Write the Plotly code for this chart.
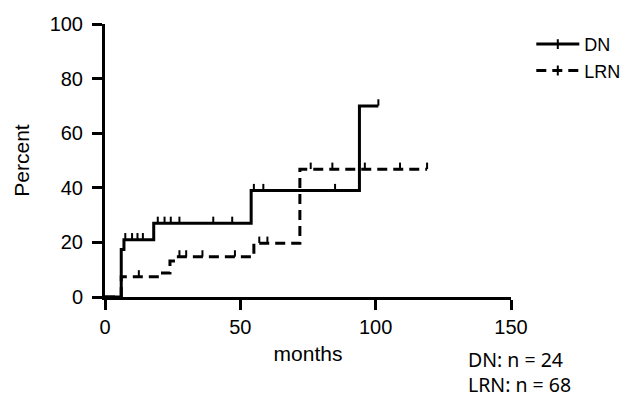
import numpy as np
import plotly.graph_objects as go

# ---- data ----
DN_event_months = [0, 6, 7, 18, 54, 94]
DN_event_pct = [0, 17.4, 21.0, 27.0, 39.0, 70.0]
DN_last_month = 101
DN_censor_months = [7.5, 10, 12, 14, 19.5, 22, 24.3, 27.5, 40, 47, 55, 58.5, 85, 101]

LRN_event_months = [0, 6, 20, 24, 26, 55, 72]
LRN_event_pct = [0, 7.4, 8.8, 13.2, 14.7, 19.7, 46.8]
LRN_last_month = 119
LRN_censor_months = [12.5, 27.5, 30, 36, 48, 57, 60, 76, 84, 96, 109, 119]

x_ticks = [0, 50, 100, 150]
y_ticks = [0, 20, 40, 60, 80, 100]
notes = ["DN: n = 24", "LRN: n = 68"]

FONT = "Arial, Liberation Sans, sans-serif"


def step_value(times, vals, t):
    idx = np.searchsorted(np.asarray(times), t, side="right") - 1
    return np.asarray(vals)[idx]


TICK_UP = 1.25  # lift censor tick (data units) so it points upward from the line

fig = go.Figure()

series = [
    ("DN", DN_event_months, DN_event_pct, DN_last_month, DN_censor_months, "solid"),
    ("LRN", LRN_event_months, LRN_event_pct, LRN_last_month, LRN_censor_months, "10px,6px"),
]

for name, tm, pc, last, cens, dash in series:
    xs = list(tm) + [last]
    ys = list(pc) + [pc[-1]]
    fig.add_trace(go.Scatter(x=xs, y=ys, mode="lines", line_shape="hv",
                             line=dict(color="black", width=3, dash=dash),
                             showlegend=False, hoverinfo="skip"))
    cy = step_value(tm, pc, np.asarray(cens)) + TICK_UP
    fig.add_trace(go.Scatter(x=cens, y=cy, mode="markers",
                             marker=dict(symbol="line-ns", size=4.6, color="black",
                                         line=dict(color="black", width=2)),
                             showlegend=False, hoverinfo="skip"))
    # legend entry
    fig.add_trace(go.Scatter(x=[None], y=[None], mode="lines+markers", name=name,
                             line=dict(color="black", width=3, dash=dash),
                             marker=dict(symbol="line-ns", size=7, color="black",
                                         line=dict(color="black", width=2))))

fig.add_annotation(text="<br>".join(notes), xref="paper", yref="paper", x=0.89, y=-0.273,
                   xanchor="left", yanchor="middle", align="left", showarrow=False,
                   font=dict(family="Noto Sans", size=19.5, color="black"))

axis_common = dict(showline=True, linewidth=3, linecolor="black", ticks="outside",
                   ticklen=10, tickwidth=3, tickcolor="black", showgrid=False,
                   zeroline=False, mirror=False,
                   tickfont=dict(family=FONT, size=20, color="black"))

fig.update_xaxes(range=[0, 150], tickvals=x_ticks, automargin="bottom",
                 title=dict(text="months", font=dict(family=FONT, size=21, color="black"),
                            standoff=10),
                 **axis_common)
fig.update_yaxes(range=[0, 100], tickvals=y_ticks, automargin="left",
                 ticklabelstandoff=5,
                 title=dict(text="Percent", font=dict(family=FONT, size=21, color="black"),
                            standoff=15),
                 **axis_common)

fig.update_layout(
    width=632, height=398,
    margin=dict(l=94, r=129, t=16, b=109),
    paper_bgcolor="white", plot_bgcolor="white",
    legend=dict(x=1.05, y=0.993, xanchor="left", yanchor="top", itemwidth=43,
                font=dict(family=FONT, size=18, color="black"),
                bgcolor="rgba(0,0,0,0)"),
    showlegend=True,
)

fig.write_html("out.html")
